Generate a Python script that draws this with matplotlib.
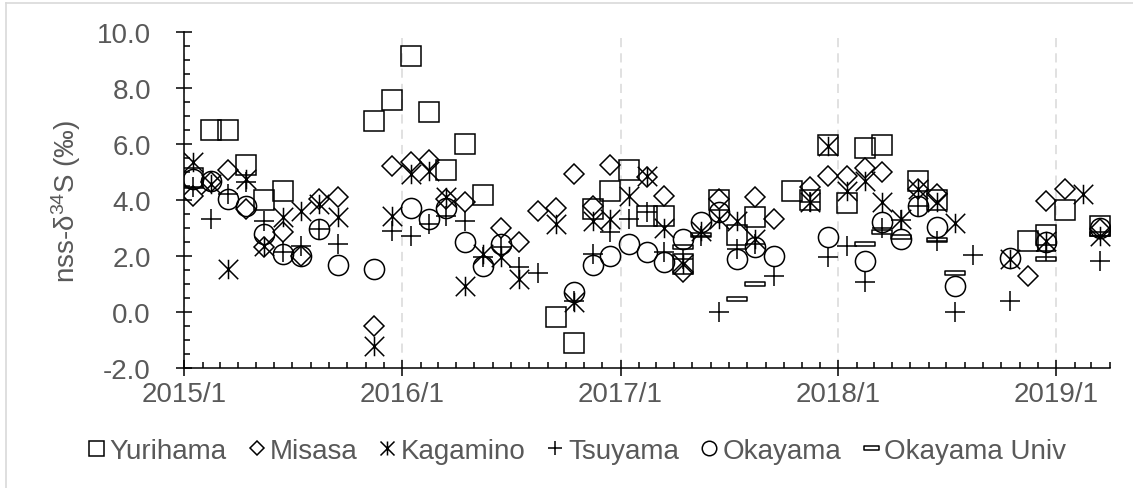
import matplotlib
matplotlib.use("Agg")
import matplotlib.pyplot as plt
import matplotlib.dates as mdates
from matplotlib.path import Path
from matplotlib.lines import Line2D
from matplotlib.ticker import MultipleLocator, FuncFormatter
import datetime as dt

plt.rcParams['font.family'] = ['Liberation Sans', 'DejaVu Sans']
plt.rcParams['mathtext.default'] = 'regular'
plt.rcParams['axes.unicode_minus'] = False

# ---- data (monthly samples, 2015/1 .. 2019/3) ----
months = ["2015-01", "2015-02", "2015-03", "2015-04", "2015-05", "2015-06", "2015-07", "2015-08", "2015-09", "2015-10", "2015-11", "2015-12",
          "2016-01", "2016-02", "2016-03", "2016-04", "2016-05", "2016-06", "2016-07", "2016-08", "2016-09", "2016-10", "2016-11", "2016-12",
          "2017-01", "2017-02", "2017-03", "2017-04", "2017-05", "2017-06", "2017-07", "2017-08", "2017-09", "2017-10", "2017-11", "2017-12",
          "2018-01", "2018-02", "2018-03", "2018-04", "2018-05", "2018-06", "2018-07", "2018-08", "2018-09", "2018-10", "2018-11", "2018-12",
          "2019-01", "2019-02", "2019-03"]

N = None
yurihama = [4.8, 6.5, 6.5, 5.27, 4.0, 4.35, N, N, N, N, 6.85, 7.6,
            9.15, 7.15, 5.1, 6.0, 4.2, N, N, N, -0.15, -1.1, 3.7, 4.35,
            5.1, 3.45, 3.45, 1.72, N, 4.0, 2.75, 3.4, N, 4.35, 4.0, 5.97,
            3.9, 5.86, 5.97, N, 4.7, 4.0, N, N, N, N, 2.56, 2.75,
            3.66, N, 3.1]
misasa = [4.16, 4.66, 5.09, 3.69, 2.32, 2.86, 2.02, 4.05, 4.11, N, -0.48, 5.24,
          5.36, 5.45, 4.05, 3.95, N, 3.0, 2.52, 3.61, 3.71, 4.94, 3.81, 5.27,
          N, 4.82, 4.16, 1.43, N, 4.05, N, 4.11, 3.33, N, 4.46, 4.88,
          4.88, 5.14, 5.0, N, 4.4, 4.22, N, N, N, N, 1.31, 3.99,
          4.4, N, 2.97]
kagamino = [5.36, 4.58, 1.55, 4.76, 2.38, 3.39, 3.63, 3.87, 3.39, N, -1.19, 3.45,
            4.94, 5.06, 4.11, 0.95, 2.08, 1.96, 1.19, N, 3.15, 0.36, 3.27, 3.33,
            4.16, 4.88, 3.0, 1.73, 2.91, 3.33, 3.27, 2.62, N, N, 3.95, 5.95,
            4.34, 4.7, 3.95, 3.33, 4.4, 3.93, 3.19, N, N, 1.9, N, 2.56,
            N, 4.22, 2.74]
tsuyama = [4.46, 3.33, 4.22, 4.66, 3.27, 2.14, 2.38, 2.97, 2.44, N, N, 2.91,
           2.74, 3.15, 3.45, 3.27, 1.96, 2.32, 1.61, 1.4, N, 0.4, 2.08, 2.86,
           3.33, 3.57, 2.14, 1.9, 2.74, 0.0, 2.26, 2.44, 1.31, N, 3.93, 1.96,
           2.38, 1.07, 3.0, 3.3, 3.81, 2.56, 0.0, 2.05, N, 0.41, N, 2.2,
           N, N, 1.84]
okayama = [4.76, 4.7, 4.05, 3.81, 2.8, 2.08, 2.0, 2.97, 1.7, N, 1.55, N,
           3.71, 3.33, 3.71, 2.52, 1.66, 2.44, N, N, N, 0.71, 1.7, 2.02,
           2.44, 2.14, 1.79, 2.62, 3.21, 3.57, 1.9, 2.32, 2.0, N, N, 2.68,
           N, 1.84, 3.24, 2.62, 3.79, 3.04, 0.95, N, N, 1.93, N, 2.5,
           N, N, 3.0]
okayama_univ = [N, N, N, N, N, N, N, N, N, N, N, N,
                N, N, N, N, N, N, N, N, N, N, N, N,
                N, N, N, 2.32, 2.76, N, 0.48, 1.01, N, N, N, N,
                N, 2.44, 2.86, 2.7, N, 2.6, 1.4, N, N, N, N, 1.9,
                N, N, 2.8]

series_names = ["Yurihama", "Misasa", "Kagamino", "Tsuyama", "Okayama", "Okayama Univ"]
series_values = [yurihama, misasa, kagamino, tsuyama, okayama, okayama_univ]
y_ticks = [-2.0, 0.0, 2.0, 4.0, 6.0, 8.0, 10.0]

# ---- marker shapes ----
star_path = Path([(-0.5, -0.5), (0.5, 0.5), (-0.5, 0.5), (0.5, -0.5), (0, -0.5), (0, 0.5)],
                 [Path.MOVETO, Path.LINETO, Path.MOVETO, Path.LINETO, Path.MOVETO, Path.LINETO])
dash_path = Path([(-0.5, -0.12), (0.5, -0.12), (0.5, 0.12), (-0.5, 0.12), (-0.5, -0.12)],
                 [Path.MOVETO, Path.LINETO, Path.LINETO, Path.LINETO, Path.CLOSEPOLY])
styles = [dict(marker='s', ms=15), dict(marker='D', ms=10), dict(marker=star_path, ms=14),
          dict(marker='+', ms=14.5), dict(marker='o', ms=14.5), dict(marker=dash_path, ms=15)]

W, H = 1133, 489
fig = plt.figure(figsize=(W / 100, H / 100), dpi=100)
ax = fig.add_axes([184.3 / W, 1 - 369.3 / H, (1110 - 184.3) / W, (369.3 - 33.3) / H])
ax.patch.set_alpha(0)

dates = [dt.datetime.strptime(m + "-15", "%Y-%m-%d") for m in months]
handles = []
for name, vals, st in zip(series_names, series_values, styles):
    xs = [d for d, v in zip(dates, vals) if v is not None]
    ys = [v for v in vals if v is not None]
    h, = ax.plot(xs, ys, linestyle='none', marker=st['marker'], markersize=st['ms'],
                 markerfacecolor='none', markeredgecolor='black', markeredgewidth=1.1,
                 label=name, zorder=3)
    handles.append(h)

ax.set_xlim(dt.datetime(2015, 1, 1), dt.datetime(2019, 4, 1))
ax.set_ylim(-2, 10)
ax.set_yticks(y_ticks)
ax.yaxis.set_minor_locator(MultipleLocator(0.5))
ax.yaxis.set_major_formatter(FuncFormatter(lambda v, p: f"{v:.1f}"))
ax.xaxis.set_major_locator(mdates.YearLocator())
ax.xaxis.set_minor_locator(mdates.MonthLocator())
ax.xaxis.set_major_formatter(FuncFormatter(lambda v, p: f"{mdates.num2date(v).year}/{mdates.num2date(v).month}"))

for s in ['top', 'right']:
    ax.spines[s].set_visible(False)
for s in ['left', 'bottom']:
    ax.spines[s].set_linewidth(1.1)
    ax.spines[s].set_color('black')

ax.tick_params(axis='both', which='major', direction='inout', length=12, width=1.1,
               colors='black', labelcolor='#595959', labelsize=20)
ax.tick_params(axis='both', which='minor', direction='in', length=4.5, width=1.1, colors='black')
ax.tick_params(axis='y', which='major', pad=18)
ax.tick_params(axis='x', which='major', pad=3)

ax.grid(axis='x', which='major', color='#d9d9d9', linestyle=(0, (6, 4)), linewidth=1.1, zorder=0)
ax.set_axisbelow(True)

fig.text(66 / W, 1 - 201 / H, "nss-δ$^{34}$S (‰)", rotation=90, ha='center', va='center',
         fontsize=20, color='#595959')

fig.legend(handles=handles, loc='center', bbox_to_anchor=(577 / W, 1 - 452 / H), ncol=6,
           frameon=False, fontsize=20, labelcolor='#595959', markerscale=0.72,
           handlelength=0.6, handletextpad=0.17, columnspacing=0.78, borderpad=0, borderaxespad=0)

# chart-area border (only left and top edges visible in the crop)
fig.add_artist(Line2D([6 / W, 6 / W], [0, 1 - 4 / H], transform=fig.transFigure,
                      color='#d9d9d9', linewidth=1.2))
fig.add_artist(Line2D([6 / W, 1], [1 - 4 / H, 1 - 4 / H], transform=fig.transFigure,
                      color='#d9d9d9', linewidth=1.2))

fig.savefig("out.png", dpi=100)
